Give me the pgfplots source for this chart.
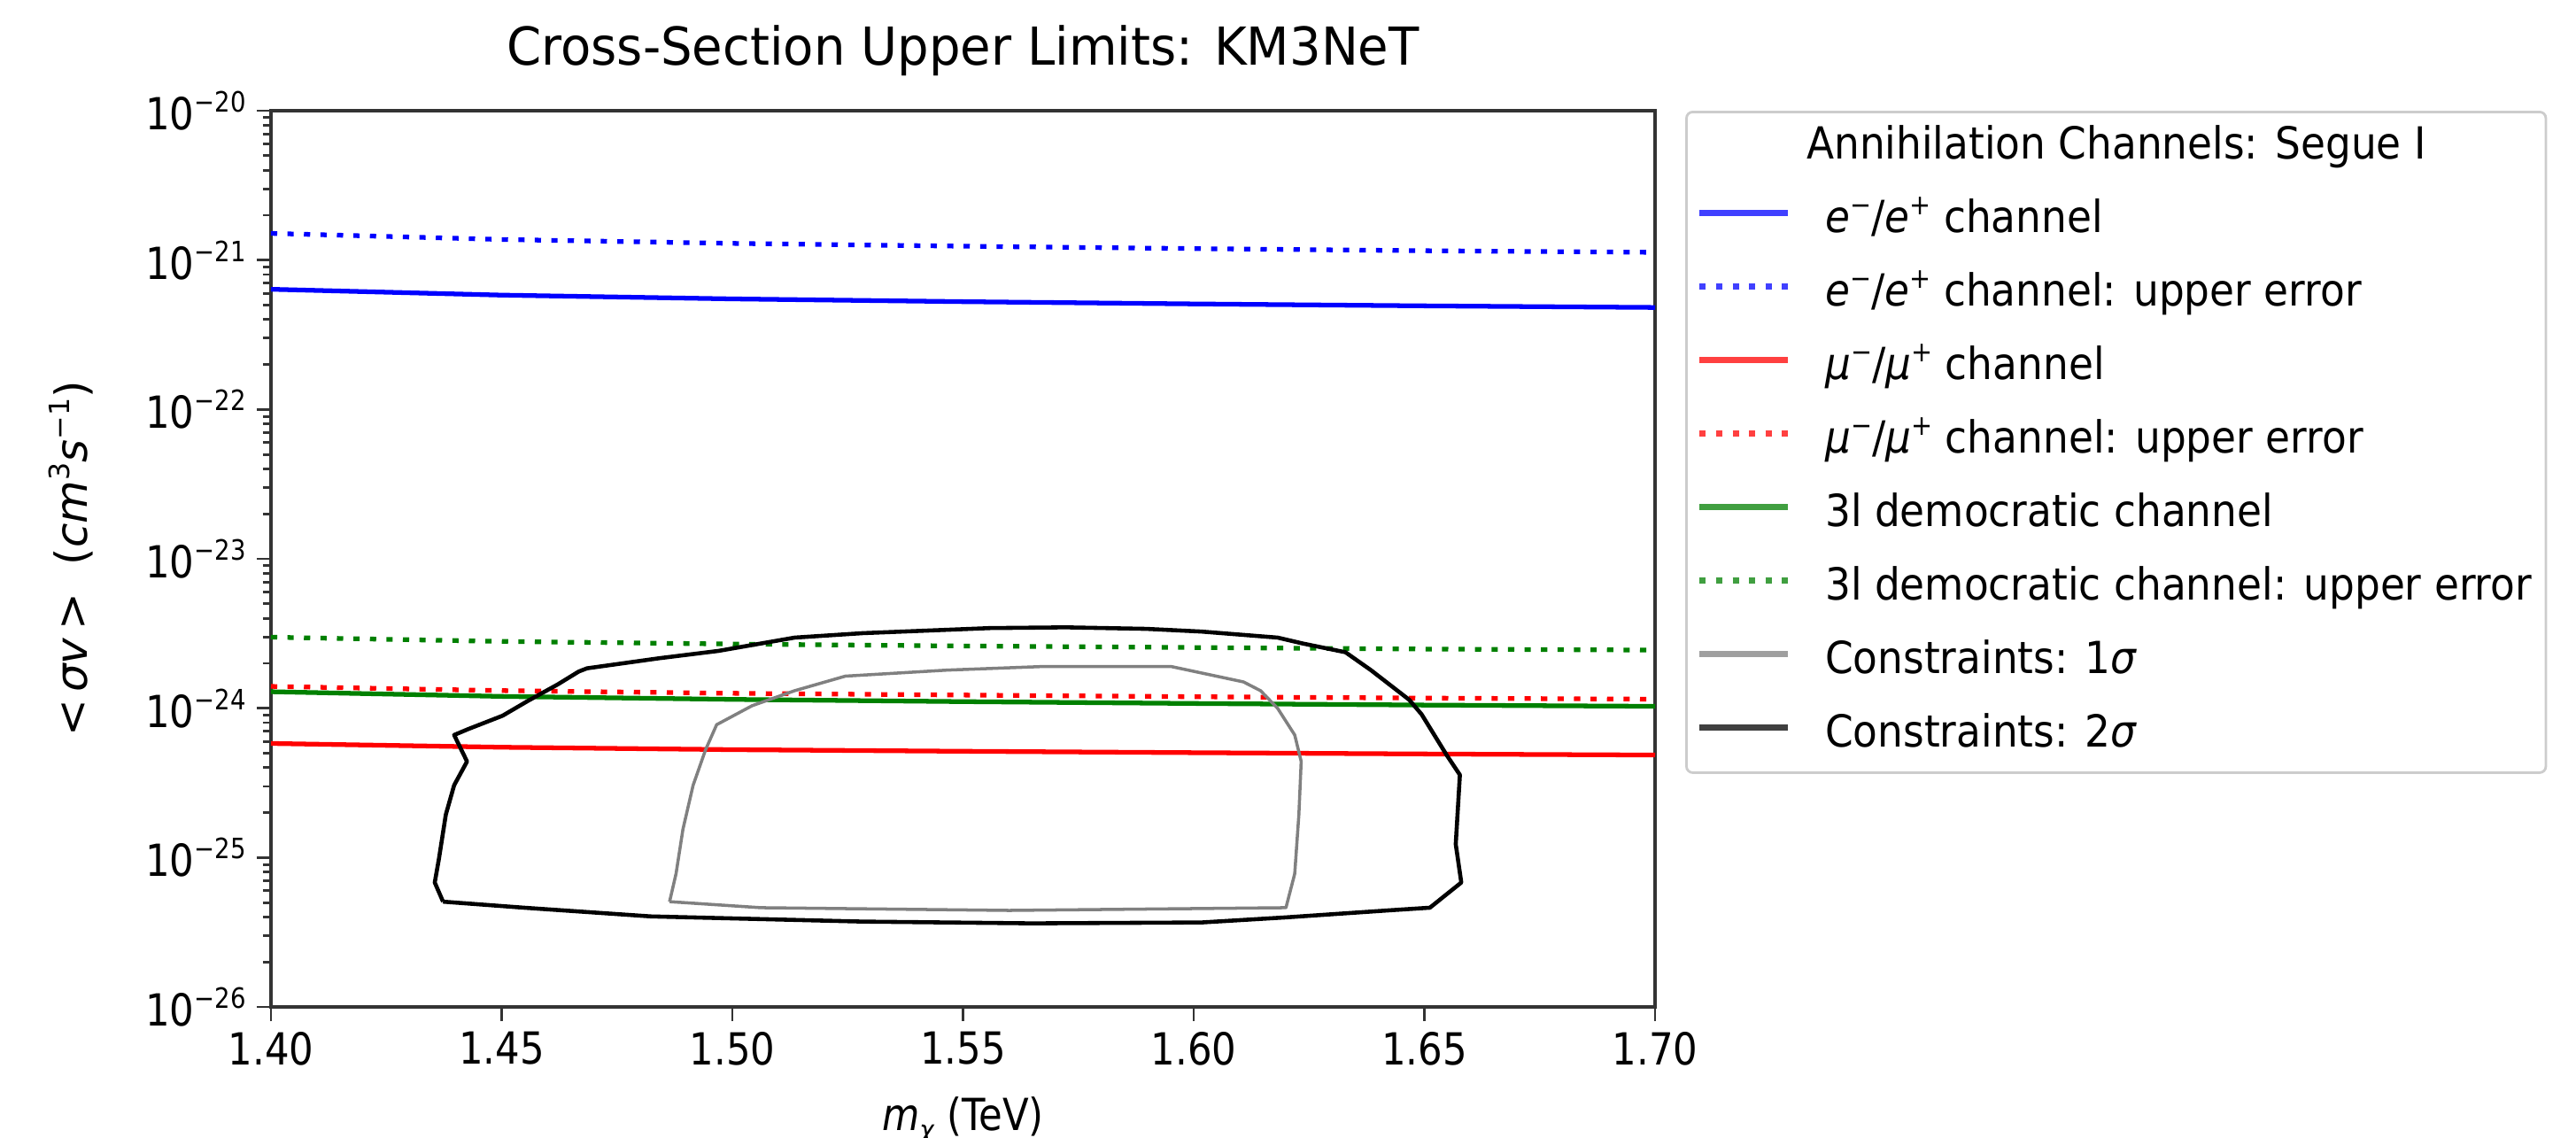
\documentclass[border=0pt]{standalone}
\usepackage{fontspec}
\setmainfont{DejaVu Sans}[FakeStretch=0.87]
\newfontfamily\rotfont{DejaVu Sans}
\newfontfamily\legfont{DejaVu Sans}[FakeStretch=0.91]
\newfontfamily\titfont{DejaVu Sans}[FakeStretch=0.95]
\usepackage{pgfplots}
\pgfplotsset{compat=1.18}

\definecolor{cblue}{RGB}{0,0,255}
\definecolor{cred}{RGB}{255,0,0}
\definecolor{cgreen}{RGB}{0,128,0}
\definecolor{cgray}{RGB}{128,128,128}

\newcommand{\sups}[1]{\raisebox{0.40em}{\fontsize{9pt}{9pt}\selectfont #1}}
\newcommand{\subs}[1]{\raisebox{-0.22em}{\fontsize{9pt}{9pt}\selectfont #1}}
\newcommand{\lblfont}{\fontsize{14.2pt}{16pt}\selectfont}

\begin{document}
\begin{tikzpicture}
\path[use as bounding box] (0,0) rectangle (29.09cm,12.85cm);
\begin{axis}[
    at={(3.06cm,1.48cm)}, anchor=south west,
    scale only axis,
    width=15.63cm, height=10.12cm,
    xmin=1.40, xmax=1.70,
    ymode=log, ymin=1e-26, ymax=1e-20,
    xtick={1.40,1.45,1.50,1.55,1.60,1.65,1.70},
    xticklabels={1.40,1.45,1.50,1.55,1.60,1.65,1.70},
    ytick={1e-26,1e-25,1e-24,1e-23,1e-22,1e-21,1e-20},
    yticklabels={10\sups{−26},10\sups{−25},10\sups{−24},10\sups{−23},10\sups{−22},10\sups{−21},10\sups{−20}},
    minor ytick={2e-26,3e-26,4e-26,5e-26,6e-26,7e-26,8e-26,9e-26,
                 2e-25,3e-25,4e-25,5e-25,6e-25,7e-25,8e-25,9e-25,
                 2e-24,3e-24,4e-24,5e-24,6e-24,7e-24,8e-24,9e-24,
                 2e-23,3e-23,4e-23,5e-23,6e-23,7e-23,8e-23,9e-23,
                 2e-22,3e-22,4e-22,5e-22,6e-22,7e-22,8e-22,9e-22,
                 2e-21,3e-21,4e-21,5e-21,6e-21,7e-21,8e-21,9e-21},
    tick pos=left,
    tick align=outside,
    major tick length=0.16cm,
    minor tick length=0.09cm,
    every tick/.style={black!80, line width=0.8pt},
    axis line style={black!80, line width=1pt},
    tick label style={font=\lblfont},
    title={Cross-Section Upper Limits: KM3NeT},
    title style={font=\titfont\fontsize{16.8pt}{20pt}\selectfont, at={(axis description cs:0.5,1)}, anchor=base, yshift=0.30cm},
    xlabel={\textit{m}\subs{\textit{χ}}\ (TeV)},
    xlabel style={font=\lblfont, at={(axis description cs:0.5,0)}, anchor=base, yshift=-1.39cm},
    ylabel={\rotfont <\,\textit{σv}\,>\ \ (\textit{cm}\sups{3}\textit{s}\sups{−1})},
    ylabel style={font=\lblfont, at={(axis description cs:-0.1446,0.5)}, anchor=center},
    legend image code/.code={\draw[#1, line cap=butt, line width=2.2pt, opacity=0.75] (0cm,0.1cm) -- (1.0cm,0.1cm);},
    legend cell align=left,
    legend style={at={(axis description cs:1.0218,1)}, anchor=north west,
        draw=black!20, line width=0.8pt, rounded corners=2pt, fill=white,
        font=\legfont\lblfont, inner xsep=0.11cm, inner ysep=0.12cm,
        row sep=0.25cm, column sep=0.33cm,
        nodes={inner sep=0.05cm, text height=0.36cm, text depth=0.12cm}},
]
\addlegendimage{empty legend}
\addlegendentry{\hspace*{-0.21cm}Annihilation Channels: Segue I}

% e-/e+ channel
\addplot[cblue, line width=1.5pt] coordinates {
(1.40,6.38e-22) (1.45,5.83e-22) (1.50,5.50e-22) (1.55,5.27e-22) (1.60,5.09e-22) (1.65,4.94e-22) (1.70,4.82e-22)
};
\addlegendentry{\textit{e}\sups{−}/\textit{e}\sups{+} channel}
\addplot[cblue, line width=1.5pt, dash pattern=on 2pt off 3.3pt] coordinates {
(1.40,1.51e-21) (1.45,1.374e-21) (1.50,1.294e-21) (1.55,1.239e-21) (1.60,1.194e-21) (1.65,1.156e-21) (1.70,1.127e-21)
};
\addlegendentry{\textit{e}\sups{−}/\textit{e}\sups{+} channel: upper error}

% mu-/mu+ channel
\addplot[cred, line width=1.5pt] coordinates {
(1.40,5.81e-25) (1.45,5.48e-25) (1.50,5.28e-25) (1.55,5.15e-25) (1.60,5.04e-25) (1.65,4.94e-25) (1.70,4.86e-25)
};
\addlegendentry{\textit{μ}\sups{−}/\textit{μ}\sups{+} channel}
\addplot[cred, line width=1.5pt, dash pattern=on 2pt off 3.3pt] coordinates {
(1.40,1.40e-24) (1.45,1.312e-24) (1.50,1.259e-24) (1.55,1.225e-24) (1.60,1.194e-24) (1.65,1.169e-24) (1.70,1.15e-24)
};
\addlegendentry{\textit{μ}\sups{−}/\textit{μ}\sups{+} channel: upper error}

% 3l democratic channel
\addplot[cgreen, line width=1.5pt] coordinates {
(1.40,1.29e-24) (1.45,1.20e-24) (1.50,1.146e-24) (1.55,1.107e-24) (1.60,1.076e-24) (1.65,1.050e-24) (1.70,1.03e-24)
};
\addlegendentry{3l democratic channel}
\addplot[cgreen, line width=1.5pt, dash pattern=on 2pt off 3.3pt] coordinates {
(1.40,2.99e-24) (1.45,2.80e-24) (1.50,2.69e-24) (1.55,2.61e-24) (1.60,2.55e-24) (1.65,2.49e-24) (1.70,2.45e-24)
};
\addlegendentry{3l democratic channel: upper error}

% 1 sigma contour
\addplot[cgray, line width=1pt, line join=round] coordinates {
(1.4864,5.07e-26) (1.4878,7.80e-26) (1.4893,1.55e-25) (1.4915,3.05e-25) (1.4942,5.27e-25)
(1.4966,7.76e-25) (1.5043,1.04e-24) (1.5135,1.31e-24) (1.5245,1.64e-24) (1.5466,1.80e-24)
(1.5668,1.90e-24) (1.5952,1.90e-24) (1.6108,1.50e-24) (1.6145,1.31e-24) (1.6182,9.98e-25)
(1.6219,6.62e-25) (1.6233,4.40e-25) (1.6228,1.94e-25) (1.6219,7.80e-26) (1.6200,4.62e-26)
(1.5600,4.43e-26) (1.5062,4.62e-26) (1.4864,5.07e-26)
};
\addlegendentry{Constraints: 1\textit{σ}}

% 2 sigma contour
\addplot[black, line width=1.3pt, line join=round] coordinates {
(1.4373,5.07e-26) (1.4355,6.81e-26) (1.4364,9.79e-26) (1.4379,1.94e-25) (1.4397,3.05e-25)
(1.4425,4.40e-25) (1.4397,6.62e-25) (1.4428,7.26e-25) (1.4502,8.91e-25) (1.4557,1.12e-24)
(1.4621,1.44e-24) (1.4667,1.76e-24) (1.4685,1.85e-24) (1.4841,2.16e-24) (1.4970,2.42e-24)
(1.5135,2.97e-24) (1.5282,3.18e-24) (1.5558,3.44e-24) (1.5723,3.48e-24) (1.5897,3.40e-24)
(1.6017,3.26e-24) (1.6182,2.97e-24) (1.6237,2.71e-24) (1.6329,2.37e-24) (1.6384,1.80e-24)
(1.6467,1.14e-24) (1.6494,9.10e-25) (1.6549,4.82e-25) (1.6577,3.58e-25) (1.6568,1.23e-25)
(1.6580,6.81e-26) (1.6512,4.62e-26) (1.6421,4.43e-26) (1.6200,3.98e-26) (1.6017,3.68e-26)
(1.5649,3.63e-26) (1.5282,3.73e-26) (1.4823,4.04e-26) (1.4548,4.62e-26) (1.4373,5.07e-26)
};
\addlegendentry{Constraints: 2\textit{σ}}
\end{axis}
\end{tikzpicture}
\end{document}
